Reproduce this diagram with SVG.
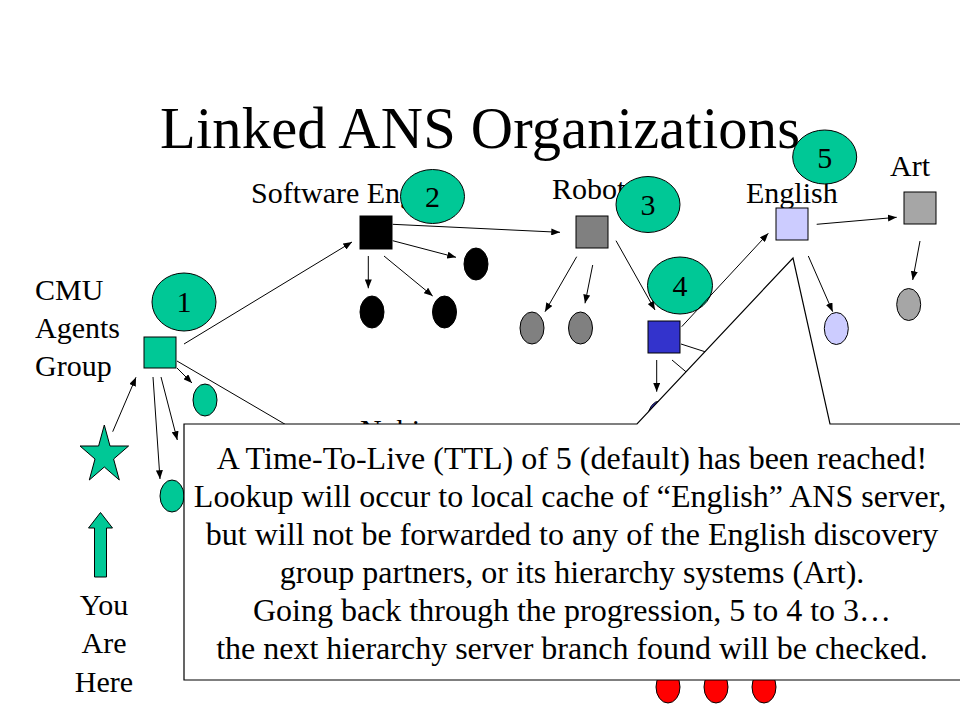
<svg xmlns="http://www.w3.org/2000/svg" width="960" height="720" viewBox="0 0 960 720">
<defs>
<marker id="ah" viewBox="0 0 10 8" refX="10" refY="4" markerWidth="9" markerHeight="7" markerUnits="userSpaceOnUse" orient="auto">
<path d="M0,0 L10,4 L0,8 z" fill="#000"/>
</marker>
<clipPath id="nobiclip"><rect x="340" y="400" width="120" height="24"/></clipPath>
<style>
text{font-family:"Liberation Serif","Times New Roman",serif;fill:#000}
.title{font-size:58.5px}
.lbl{font-size:30px}
.num{font-size:30px;text-anchor:middle}
.co{font-size:32px;text-anchor:middle}
.sh{stroke:#000;stroke-width:1}
.teal{fill:#00C896}
.line{stroke:#000;stroke-width:1;fill:none}
.arr{stroke:#000;stroke-width:1;fill:none;marker-end:url(#ah)}
</style>
</defs>
<rect width="960" height="720" fill="#fff"/>
<text class="title" x="160" y="148" textLength="640">Linked ANS Organizations</text>

<g id="labels">
<text class="lbl" x="35" y="300">CMU</text>
<text class="lbl" x="35" y="338">Agents</text>
<text class="lbl" x="35" y="376">Group</text>
<text class="lbl" x="251" y="203">Software Eng</text>
<text class="lbl" x="552" y="199">Robot</text>
<text class="lbl" x="746" y="203">English</text>
<text class="lbl" x="890" y="176">Art</text>
<text class="lbl" x="360" y="440" clip-path="url(#nobiclip)">Nobi</text>
<text class="lbl" x="104" y="615" text-anchor="middle">You</text>
<text class="lbl" x="104" y="653" text-anchor="middle">Are</text>
<text class="lbl" x="104" y="692" text-anchor="middle">Here</text>
</g>

<g id="node-cmu"><rect class="sh teal" x="144" y="337" width="32" height="31"/></g>
<g id="node-cmu-e1"><ellipse class="sh teal" cx="205" cy="400" rx="12" ry="16"/></g>
<g id="node-cmu-e2"><ellipse class="sh teal" cx="172" cy="496" rx="12" ry="16"/></g>
<g id="node-star"><polygon class="sh teal" points="104.3,425 110,446 128.6,446 113.6,459 119.3,480 104.3,467 89.3,480 95,459 80,446 98.6,446"/></g>
<g id="node-youarehere-arrow"><polygon class="sh teal" points="100.5,512.5 112.5,528 106.5,528 106.5,577 94.5,577 94.5,528 88.5,528"/></g>

<g id="node-sweng"><rect class="sh" fill="#000" x="360" y="216" width="32" height="33"/></g>
<g id="node-sweng-e1"><ellipse class="sh" fill="#000" cx="476" cy="264" rx="12" ry="16"/></g>
<g id="node-sweng-e2"><ellipse class="sh" fill="#000" cx="372" cy="312" rx="12" ry="16"/></g>
<g id="node-sweng-e3"><ellipse class="sh" fill="#000" cx="444.5" cy="312" rx="12" ry="16"/></g>

<g id="node-robotics"><rect class="sh" fill="#808080" x="576" y="216" width="32" height="32"/></g>
<g id="node-rob-e1"><ellipse class="sh" fill="#808080" cx="532" cy="328" rx="12" ry="16"/></g>
<g id="node-rob-e2"><ellipse class="sh" fill="#808080" cx="580.5" cy="328" rx="12" ry="16"/></g>

<g id="node-blue"><rect class="sh" fill="#3333CC" x="648" y="321" width="32" height="32"/></g>
<g id="node-blue-e1"><ellipse class="sh" fill="#3333CC" cx="660" cy="417" rx="12" ry="16"/></g>

<g id="node-english"><rect class="sh" fill="#CCCCFF" x="776" y="208" width="32" height="32"/></g>
<g id="node-english-e1"><ellipse class="sh" fill="#CCCCFF" cx="836.3" cy="328.5" rx="12" ry="16"/></g>

<g id="node-art"><rect class="sh" fill="#A6A6A6" x="904" y="192" width="32" height="32"/></g>
<g id="node-art-e1"><ellipse class="sh" fill="#A6A6A6" cx="908.7" cy="304.5" rx="12" ry="16"/></g>

<g id="node-red">
<ellipse class="sh" fill="#FF0000" cx="668" cy="687" rx="12" ry="16"/>
<ellipse class="sh" fill="#FF0000" cx="716" cy="687" rx="12" ry="16"/>
<ellipse class="sh" fill="#FF0000" cx="764" cy="687" rx="12" ry="16"/>
</g>

<g id="step-1"><ellipse class="sh teal" cx="184" cy="302" rx="32" ry="29"/><text class="num" x="184" y="312">1</text></g>
<g id="step-2"><ellipse class="sh teal" cx="432.5" cy="196.5" rx="32" ry="27"/><text class="num" x="432.5" y="207">2</text></g>
<g id="step-3"><ellipse class="sh teal" cx="648" cy="204.5" rx="32" ry="28"/><text class="num" x="648" y="215">3</text></g>
<g id="step-4"><ellipse class="sh teal" cx="680" cy="285.5" rx="32.5" ry="28.5"/><text class="num" x="680" y="296">4</text></g>
<g id="step-5"><ellipse class="sh teal" cx="824.7" cy="157" rx="32" ry="27"/><text class="num" x="824.7" y="167.5">5</text></g>

<g id="connectors">
<line class="arr" x1="184" y1="344" x2="352" y2="242"/>
<line class="arr" x1="177" y1="368" x2="192" y2="383"/>
<line class="arr" x1="161" y1="377" x2="177.3" y2="440"/>
<line class="arr" x1="153" y1="377" x2="160" y2="479"/>
<line class="arr" x1="112.7" y1="431.7" x2="136" y2="377.3"/>
<line class="line" x1="177" y1="361" x2="300" y2="433"/>
<line class="arr" x1="392.7" y1="224.3" x2="560" y2="232.3"/>
<line class="arr" x1="392.7" y1="240.7" x2="456" y2="257.3"/>
<line class="arr" x1="368.3" y1="256" x2="368.3" y2="288.3"/>
<line class="arr" x1="384" y1="256" x2="432.7" y2="296"/>
<line class="arr" x1="576.7" y1="256.7" x2="545" y2="311.7"/>
<line class="arr" x1="592.7" y1="265" x2="585" y2="303.3"/>
<line class="arr" x1="616" y1="240.7" x2="655" y2="310"/>
<line class="arr" x1="681.7" y1="326.7" x2="768.3" y2="233.3"/>
<line class="arr" x1="816.7" y1="224.3" x2="896.7" y2="217.3"/>
<line class="arr" x1="808.3" y1="256" x2="832.7" y2="311.7"/>
<line class="arr" x1="920" y1="241" x2="912.7" y2="280"/>
<line class="arr" x1="656.7" y1="360" x2="656.7" y2="391.7"/>
<line class="line" x1="681" y1="344" x2="740" y2="363"/>
<line class="line" x1="672" y1="360" x2="710" y2="392"/>
</g>

<g id="callout">
<polygon points="184,424 637,424 793,258 830,424 962,424 962,680 184,680" fill="#fff" stroke="#000" stroke-width="1.2"/>
<text class="co" x="572" y="469">A Time-To-Live (TTL) of 5 (default) has been reached!</text>
<text class="co" x="570" y="507">Lookup will occur to local cache of “English” ANS server,</text>
<text class="co" x="572" y="545">but will not be forwarded to any of the English discovery</text>
<text class="co" x="572" y="583">group partners, or its hierarchy systems (Art).</text>
<text class="co" x="572" y="621">Going back through the progression, 5 to 4 to 3…</text>
<text class="co" x="572" y="659">the next hierarchy server branch found will be checked.</text>
</g>
</svg>
